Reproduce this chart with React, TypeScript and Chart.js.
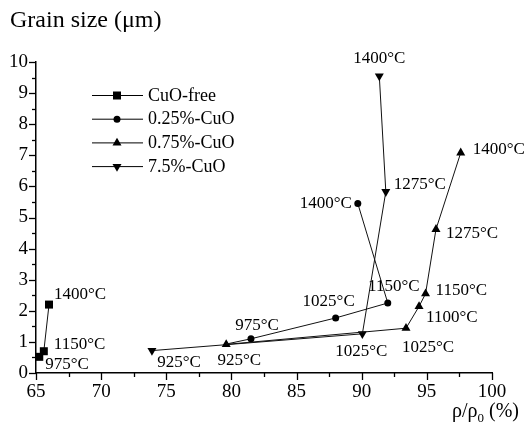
import React, { useEffect, useRef } from "react";
import { Chart, registerables } from "chart.js";

Chart.register(...registerables);

// ---- data ----
const seriesNames = ["CuO-free", "0.25%-CuO", "0.75%-CuO", "7.5%-CuO"];

const densityCuOFree = [65.25, 65.6, 66.0];
const grainCuOFree = [0.52, 0.7, 2.2];
const tempCuOFree = ["975°C", "1150°C", "1400°C"];

const density025 = [79.6, 81.5, 88.0, 92.0, 89.7];
const grain025 = [0.93, 1.1, 1.77, 2.25, 5.45];
const temp025 = ["", "975°C", "1025°C", "1150°C", "1400°C"];

const density075 = [79.6, 93.4, 94.4, 94.9, 95.7, 97.6];
const grain075 = [0.92, 1.44, 2.14, 2.55, 4.62, 7.08];
const temp075 = ["925°C", "1025°C", "1100°C", "1150°C", "1275°C", "1400°C"];

const density75 = [73.9, 90.05, 91.85, 91.35];
const grain75 = [0.72, 1.26, 5.83, 9.55];
const temp75 = ["925°C", "1025°C", "1275°C", "1400°C"];

const xMin = 65, xMax = 100, xStep = 5;
const yMin = 0, yMax = 10, yStep = 1;

// label placement (pixel offsets from the point, alignment)
type Place = [number, number, CanvasTextAlign];
const placeCuOFree: Place[] = [[6, 8, "left"], [10, -7, "left"], [5, -10, "left"]];
const place025: Place[] = [[0, 0, "left"], [6, -13, "center"], [-7, -16, "center"], [6, -16, "center"], [-6, 0, "right"]];
const place075: Place[] = [[13, 16, "center"], [22, 19, "center"], [7, 11, "left"], [10, -3, "left"], [10, 4, "left"], [12, -3, "left"]];
const place75: Place[] = [[27, 12, "center"], [-1, 18, "center"], [8, -7, "left"], [0, -17, "center"]];

const FONT = "'Liberation Serif', 'Times New Roman', serif";

function pts(xs: number[], ys: number[]) {
  return xs.map((x, i) => ({ x, y: ys[i] }));
}

function drawMarker(ctx: CanvasRenderingContext2D, kind: string, x: number, y: number) {
  ctx.beginPath();
  if (kind === "rect") {
    ctx.rect(x - 4, y - 4, 8, 8);
  } else if (kind === "circle") {
    ctx.arc(x, y, 3.5, 0, Math.PI * 2);
  } else if (kind === "up") {
    ctx.moveTo(x, y - 5.2);
    ctx.lineTo(x + 4.5, y + 2.6);
    ctx.lineTo(x - 4.5, y + 2.6);
    ctx.closePath();
  } else {
    ctx.moveTo(x, y + 5.2);
    ctx.lineTo(x + 4.5, y - 2.6);
    ctx.lineTo(x - 4.5, y - 2.6);
    ctx.closePath();
  }
  ctx.fillStyle = "#000";
  ctx.fill();
}

const markerKinds = ["rect", "circle", "up", "down"];
const labelSets = [tempCuOFree, temp025, temp075, temp75];
const placeSets = [placeCuOFree, place025, place075, place75];

const decorPlugin = {
  id: "decor",
  afterDraw(chart: any) {
    const ctx: CanvasRenderingContext2D = chart.ctx;
    const xs = chart.scales.x;
    const ys = chart.scales.y;
    const area = chart.chartArea;
    ctx.save();
    ctx.strokeStyle = "#000";
    ctx.lineWidth = 1.3;
    // ticks
    for (let v = yMin; v <= yMax + 1e-9; v += yStep / 2) {
      const py = Math.round(ys.getPixelForValue(v)) + 0.5;
      const len = Math.abs(v - Math.round(v)) < 1e-6 ? 7 : 4;
      ctx.beginPath();
      ctx.moveTo(area.left - len, py);
      ctx.lineTo(area.left, py);
      ctx.stroke();
    }
    for (let v = xMin; v <= xMax + 1e-9; v += xStep / 2) {
      const px = Math.round(xs.getPixelForValue(v)) + 0.5;
      const len = Math.abs(v / xStep - Math.round(v / xStep)) < 1e-6 ? 7 : 4;
      ctx.beginPath();
      ctx.moveTo(px, area.bottom);
      ctx.lineTo(px, area.bottom + len);
      ctx.stroke();
    }
    ctx.fillStyle = "#000";
    // title
    ctx.font = `24px ${FONT}`;
    ctx.textAlign = "left";
    ctx.textBaseline = "alphabetic";
    ctx.fillText("Grain size (μm)", 10, 27);
    // x title
    ctx.font = `20px ${FONT}`;
    let tx = 452;
    const ty = 417;
    ctx.fillText("ρ/ρ", tx, ty);
    tx += ctx.measureText("ρ/ρ").width;
    ctx.font = `13px ${FONT}`;
    ctx.fillText("0", tx, ty + 5);
    tx += ctx.measureText("0").width;
    ctx.font = `20px ${FONT}`;
    ctx.fillText(" (%)", tx, ty);
    // legend
    ctx.font = `18px ${FONT}`;
    ctx.textBaseline = "middle";
    seriesNames.forEach((name, i) => {
      const ry = 95 + i * 23.7;
      ctx.strokeStyle = "#000";
      ctx.lineWidth = 1;
      ctx.beginPath();
      ctx.moveTo(92, ry + 0.5);
      ctx.lineTo(143, ry + 0.5);
      ctx.stroke();
      drawMarker(ctx, markerKinds[i], 117, ry + 0.5);
      ctx.fillStyle = "#000";
      ctx.textAlign = "left";
      ctx.fillText(name, 148, ry + 1);
    });
    // point labels
    ctx.font = `17px ${FONT}`;
    ctx.textBaseline = "middle";
    chart.data.datasets.forEach((ds: any, di: number) => {
      const labels = labelSets[di];
      const places = placeSets[di];
      ds.data.forEach((p: any, pi: number) => {
        const text = labels[pi];
        if (!text) return;
        const [dx, dy, align] = places[pi];
        const px = xs.getPixelForValue(p.x);
        const py = ys.getPixelForValue(p.y);
        ctx.textAlign = align;
        ctx.fillText(text, px + dx, py + dy);
      });
    });
    ctx.restore();
  },
};

export default function App() {
  const ref = useRef<HTMLCanvasElement | null>(null);
  useEffect(() => {
    if (!ref.current) return;
    const common = {
      showLine: true,
      borderColor: "#111",
      borderWidth: 1,
      backgroundColor: "#000",
      pointBorderColor: "#000",
      pointBorderWidth: 0,
      tension: 0,
    };
    const chart = new Chart(ref.current, {
      type: "scatter",
      data: {
        datasets: [
          { ...common, label: seriesNames[0], data: pts(densityCuOFree, grainCuOFree), pointStyle: "rect", pointRadius: 5.66 },
          { ...common, label: seriesNames[1], data: pts(density025, grain025), pointStyle: "circle", pointRadius: [0, 3.5, 3.5, 3.5, 3.5] },
          { ...common, label: seriesNames[2], data: pts(density075, grain075), pointStyle: "triangle", pointRadius: 5.2 },
          { ...common, label: seriesNames[3], data: pts(density75, grain75), pointStyle: "triangle", pointRotation: 180, pointRadius: 5.2 },
        ],
      },
      options: {
        responsive: false,
        animation: false,
        devicePixelRatio: 1,
        layout: { padding: { top: 62, right: 34, left: 0, bottom: 0 } },
        plugins: { legend: { display: false }, tooltip: { enabled: false }, title: { display: false } },
        scales: {
          x: {
            type: "linear",
            min: xMin,
            max: xMax,
            ticks: { stepSize: xStep, color: "#000", font: { family: FONT, size: 19 }, padding: 8, maxRotation: 0 },
            grid: { display: false, drawTicks: false },
            border: { display: true, color: "#000", width: 1.5 },
            afterFit: (s: any) => { s.height = 58; },
          },
          y: {
            type: "linear",
            min: yMin,
            max: yMax,
            ticks: { stepSize: yStep, color: "#000", font: { family: FONT, size: 19 }, padding: 8 },
            grid: { display: false, drawTicks: false },
            border: { display: true, color: "#000", width: 1.5 },
            afterFit: (s: any) => { s.width = 36; },
          },
        },
      },
      plugins: [decorPlugin],
    } as any);
    return () => chart.destroy();
  }, []);
  return (
    <div style={{ position: "absolute", left: 0, top: 0, width: 526, height: 431, background: "#fff" }}>
      <canvas ref={ref} width={526} height={431} />
    </div>
  );
}
